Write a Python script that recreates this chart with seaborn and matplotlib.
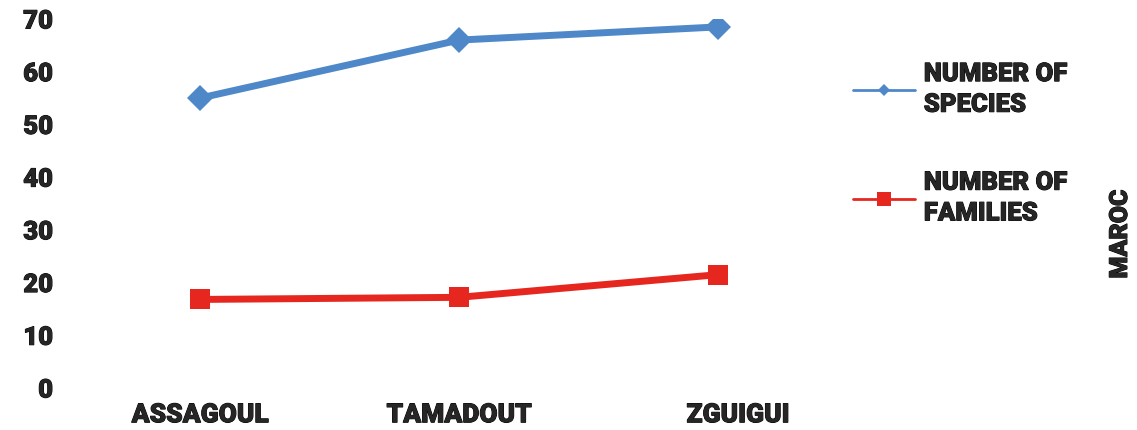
import matplotlib
matplotlib.use('Agg')
import matplotlib.pyplot as plt
import matplotlib.transforms as mtransforms
import matplotlib.patheffects as pe
import pandas as pd
import seaborn as sns
from matplotlib.lines import Line2D

# data
sites = ['ASSAGOUL', 'TAMADOUT', 'ZGUIGUI']
species = [55, 66, 68.5]
families = [16.8, 17.2, 21.5]
yticks = [0, 10, 20, 30, 40, 50, 60, 70]

blue = '#4F88C8'
red = '#E5271F'

sns.set_theme(style='white')
plt.rcParams['font.family'] = ['Roboto', 'DejaVu Sans']
plt.rcParams['font.weight'] = 'black'

# slightly heavier text, the original uses a very bold face
heavy = [pe.withStroke(linewidth=0.7, foreground='black')]

df = pd.DataFrame({'site': sites, 'species': species, 'families': families})

fig = plt.figure(figsize=(11.37, 4.31), dpi=100)
ax = fig.add_axes([74 / 1137, 42 / 431, 746 / 1137, 369 / 431])

sns.lineplot(data=df, x='site', y='species', ax=ax, color=blue, lw=5,
             marker='D', markersize=13, markeredgewidth=0, sort=False)
sns.lineplot(data=df, x='site', y='families', ax=ax, color=red, lw=5,
             marker='s', markersize=15, markeredgewidth=0, sort=False)

ax.set_xlim(-0.487, 2.394)
ax.set_ylim(0, 70)
ax.set_yticks(yticks)
ax.set_xlabel('')
ax.set_ylabel('')
for s in ax.spines.values():
    s.set_visible(False)
ax.tick_params(axis='y', length=0, pad=15, labelsize=18.5)
ax.tick_params(axis='x', length=0, pad=11, labelsize=19)
for t in ax.get_xticklabels() + ax.get_yticklabels():
    t.set_fontweight('black')
    t.set_path_effects(heavy)

# last category label sits a bit right of its point in the original
lbl = ax.get_xticklabels()[2]
lbl.set_transform(lbl.get_transform() + mtransforms.ScaledTranslation(0.2, 0, fig.dpi_scale_trans))

# legend with thin lines like the original
handles = [
    Line2D([], [], color=blue, lw=2, marker='D', markersize=6, markeredgewidth=0),
    Line2D([], [], color=red, lw=2, marker='s', markersize=10, markeredgewidth=0),
]
labels = ['NUMBER OF\nSPECIES', 'NUMBER OF\nFAMILIES']
leg = fig.legend(handles, labels, loc='upper left', bbox_to_anchor=(830 / 1137, 1 - 40 / 431),
                 frameon=False, handlelength=2.4, handletextpad=0.35,
                 labelspacing=2.1, prop={'weight': 'black', 'size': 18.5})
for t in leg.get_texts():
    t.set_path_effects(heavy)
    t.set_linespacing(1.35)

fig.text(1120 / 1137, 1 - 235 / 431, 'MAROC', rotation=90, ha='center', va='center',
         fontsize=18, fontweight='black', path_effects=heavy)

fig.savefig('out.png', dpi=100)
